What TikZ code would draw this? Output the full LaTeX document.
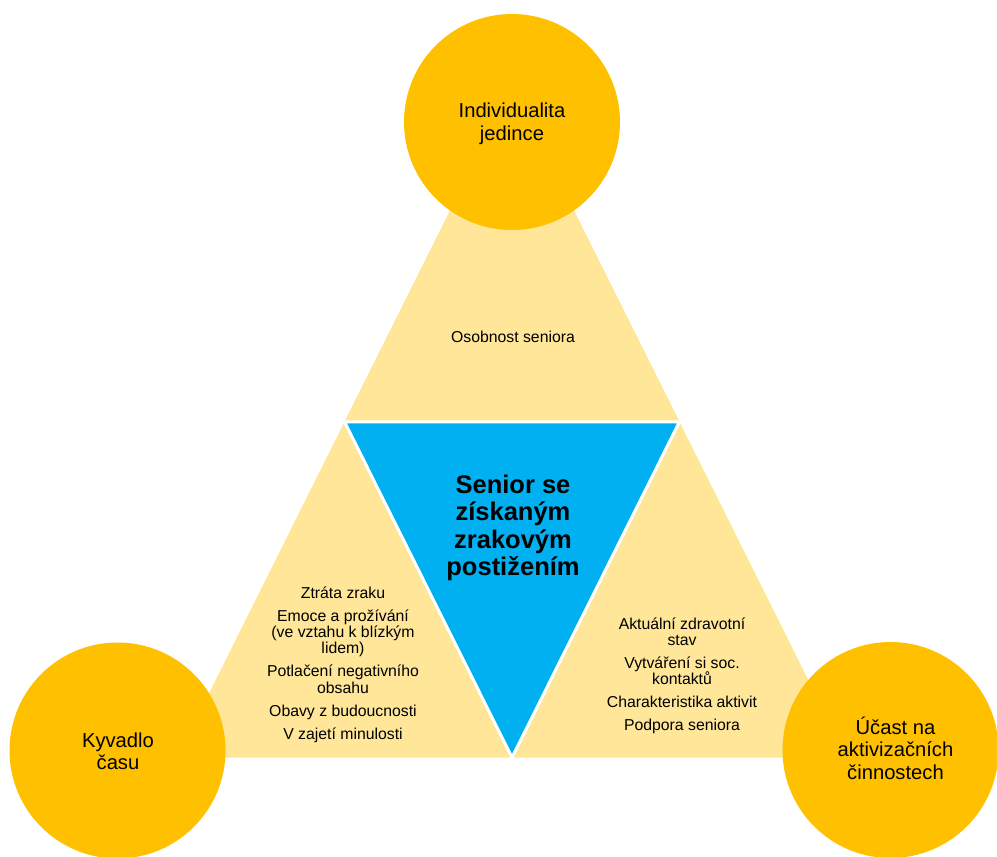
\documentclass[tikz,border=0pt]{standalone}
\usepackage{fontspec}
\setmainfont{Liberation Sans}
\definecolor{circ}{HTML}{FFC000}
\definecolor{pale}{HTML}{FFE699}
\definecolor{sky}{HTML}{00B0F0}
\begin{document}
\begin{tikzpicture}[x=1pt,y=-1pt,
  circtext/.style={align=center,font=\fontsize{20.2}{22.5}\selectfont,inner sep=0pt},
  smalltext/.style={align=center,font=\fontsize{15.8}{16.3}\selectfont,inner sep=0pt},
  centertext/.style={align=center,font=\fontsize{25.5}{27.5}\selectfont\bfseries,inner sep=0pt},
  bigcirc/.style={circle,fill=circ,minimum size=216pt,inner sep=0pt},
  outertri/.style={fill=pale},
  innertri/.style={fill=sky,draw=white,line width=3pt}]
\useasboundingbox (0,0) rectangle (997,857);
% outer triangle corners and mid points
\coordinate (A) at (512,86);
\coordinate (B) at (177,757.5);
\coordinate (C) at (847,757.5);
\coordinate (AB) at (344.5,421.75);
\coordinate (AC) at (679.5,421.75);
\coordinate (BC) at (512,757.5);
\fill[outertri] (A) -- (B) -- (C) -- cycle;
\filldraw[innertri] (AB) -- (AC) -- (BC) -- cycle;
% circles
\node[bigcirc] (ctop) at (512,122) {};
\node[bigcirc] (cleft) at (117.5,750.5) {};
\node[bigcirc] (cright) at (890.5,750) {};
% circle texts
\node[circtext] (ttop) at (512,124) {Individualita\\jedince};
\node[circtext] (tleft) at (118,751.3) {Kyvadlo\\času};
\node[circtext] (tright) at (895.5,748.3) {Účast na\\aktivizačních\\činnostech};
% triangle texts
\node[smalltext,anchor=base] (tupper) at (513,342) {Osobnost seniora};
\node[smalltext] (tlower) at (343,664.6) {Ztráta zraku\\[6.7pt]Emoce a prožívání\\(ve vztahu k blízkým\\lidem)\\[6.7pt]Potlačení negativního\\obsahu\\[6.7pt]Obavy z budoucnosti\\[6.7pt]V zajetí minulosti};
\node[smalltext] (tright2) at (682,676) {Aktuální zdravotní\\stav\\[6.7pt]Vytváření si soc.\\kontaktů\\[6.7pt]Charakteristika aktivit\\[6.7pt]Podpora seniora};
\node[centertext] (tcenter) at (513,527.7) {Senior se\\získaným\\zrakovým\\postižením};
\end{tikzpicture}
\end{document}
